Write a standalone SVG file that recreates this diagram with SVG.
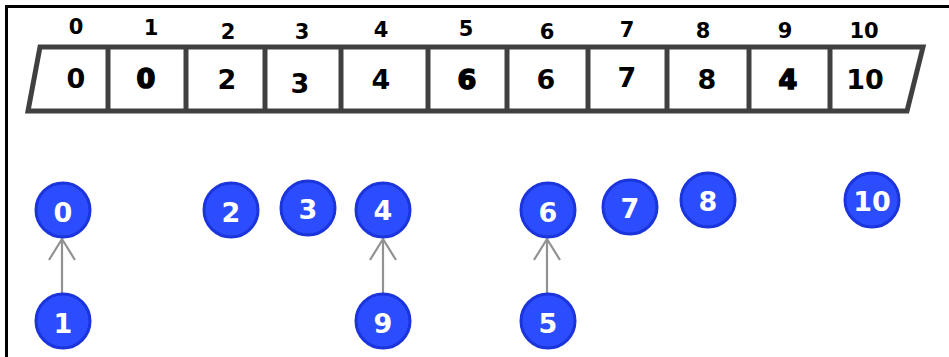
<svg xmlns="http://www.w3.org/2000/svg" width="949" height="357" viewBox="0 0 949 357">
<style>
.frame{fill:none;stroke:#000;stroke-width:3}
.arr{fill:none;stroke:#404040;stroke-width:5;stroke-linejoin:miter}
.div{stroke:#404040;stroke-width:5}
.idx{font-family:"DejaVu Sans",Verdana,sans-serif;font-weight:bold;font-size:21px;fill:#000;text-anchor:middle}
.val{font-family:"DejaVu Sans",Verdana,sans-serif;font-weight:bold;font-size:27px;fill:#000;text-anchor:middle}
.heavy{stroke:#000;stroke-width:1.6}
.node circle{fill:#2c4dfd;stroke:#1b34dc;stroke-width:3}
.node text{font-family:"DejaVu Sans",Verdana,sans-serif;font-weight:bold;font-size:27px;fill:#fff;text-anchor:middle}
.edge{stroke:#929292;stroke-width:2.2;fill:none}
</style>
<rect width="949" height="357" fill="#fff"/>
<path class="frame" d="M6.5,357 V6.5 H949"/>
<g id="array">
<polygon class="arr" points="40,47 923,47 907,111 28,111"/>
<line class="div" x1="108" y1="47" x2="108" y2="111"/>
<line class="div" x1="186" y1="47" x2="186" y2="111"/>
<line class="div" x1="265" y1="47" x2="265" y2="111"/>
<line class="div" x1="341" y1="47" x2="341" y2="111"/>
<line class="div" x1="428" y1="47" x2="428" y2="111"/>
<line class="div" x1="507" y1="47" x2="507" y2="111"/>
<line class="div" x1="588" y1="47" x2="588" y2="111"/>
<line class="div" x1="667" y1="47" x2="667" y2="111"/>
<line class="div" x1="749" y1="47" x2="749" y2="111"/>
<line class="div" x1="830" y1="47" x2="830" y2="111"/>
<text class="idx" x="76" y="34">0</text>
<text class="idx" x="151" y="35">1</text>
<text class="idx" x="228" y="39">2</text>
<text class="idx" x="302" y="39">3</text>
<text class="idx" x="381" y="37">4</text>
<text class="idx" x="466" y="36">5</text>
<text class="idx" x="547" y="39">6</text>
<text class="idx" x="627" y="37">7</text>
<text class="idx" x="703" y="38">8</text>
<text class="idx" x="785" y="38">9</text>
<text class="idx" x="864" y="38">10</text>
<text class="val" x="76" y="88">0</text>
<text class="val heavy" x="146" y="88">0</text>
<text class="val" x="227" y="89">2</text>
<text class="val" x="300" y="93">3</text>
<text class="val" x="381" y="89">4</text>
<text class="val heavy" x="467" y="89">6</text>
<text class="val" x="546" y="89">6</text>
<text class="val" x="627" y="87">7</text>
<text class="val" x="707" y="89">8</text>
<text class="val heavy" x="788" y="89">4</text>
<text class="val" x="865" y="89">10</text>
</g>
<g id="connectors">
<path class="edge" d="M62,293 V239 M49,260 L62,239 L75,260"/>
<path class="edge" d="M383,293 V239 M370,260 L383,239 L396,260"/>
<path class="edge" d="M547,293 V239 M534,260 L547,239 L560,260"/>
</g>
<g id="n0" class="node"><circle cx="63" cy="210" r="27"/><text x="63" y="222">0</text></g>
<g id="n1" class="node"><circle cx="63" cy="321" r="27"/><text x="63" y="333">1</text></g>
<g id="n2" class="node"><circle cx="231" cy="210" r="27"/><text x="231" y="222">2</text></g>
<g id="n3" class="node"><circle cx="308" cy="208" r="27"/><text x="308" y="219">3</text></g>
<g id="n4" class="node"><circle cx="383" cy="210" r="27"/><text x="383" y="220">4</text></g>
<g id="n9" class="node"><circle cx="383" cy="321" r="27"/><text x="383" y="333">9</text></g>
<g id="n6" class="node"><circle cx="548" cy="210" r="27"/><text x="548" y="222">6</text></g>
<g id="n5" class="node"><circle cx="548" cy="321" r="27"/><text x="548" y="333">5</text></g>
<g id="n7" class="node"><circle cx="630" cy="207" r="27"/><text x="630" y="218">7</text></g>
<g id="n8" class="node"><circle cx="708" cy="200" r="27"/><text x="708" y="211">8</text></g>
<g id="n10" class="node"><circle cx="872" cy="200" r="27"/><text x="872" y="211">10</text></g>
</svg>
